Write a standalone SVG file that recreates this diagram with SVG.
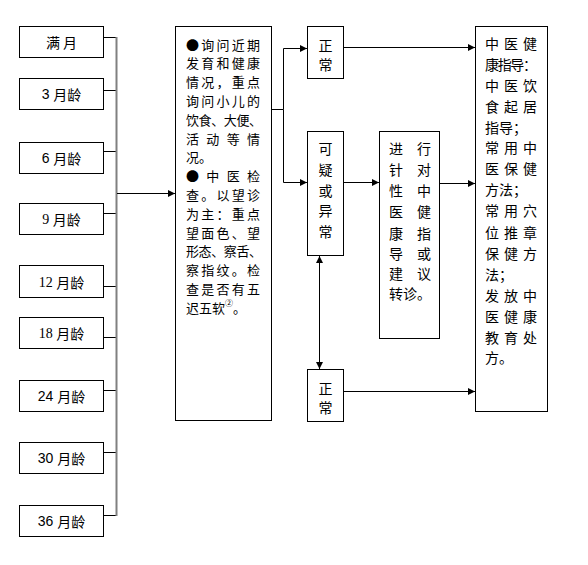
<svg xmlns="http://www.w3.org/2000/svg" width="588" height="565" viewBox="0 0 588 565">
<style>
.box{fill:#fff;stroke:#000;stroke-width:1}
.t{font-family:"Noto Sans CJK SC","Liberation Sans",sans-serif;font-size:14px;fill:#000;dominant-baseline:central}
.m{font-size:13px}
.s{font-family:"Liberation Sans","Noto Sans CJK SC",sans-serif}
.r{font-family:"Liberation Serif","Noto Sans CJK SC",serif}
.c{text-anchor:middle}
.ln{fill:none;stroke:#000;stroke-width:1}
</style>
<defs>
<marker id="a" viewBox="0 0 10 10" refX="10" refY="5" markerWidth="8" markerHeight="7" markerUnits="userSpaceOnUse" orient="auto-start-reverse">
<path d="M0,0 L10,5 L0,10 z" fill="#000"/>
</marker>
</defs>

<g id="n-m0"><rect class="box" x="19.5" y="26.5" width="84" height="31"/><text class="t c" x="61.5" y="42">满 月</text></g>
<g id="n-m3"><rect class="box" x="19.5" y="78.5" width="84" height="31"/><text class="t c" x="61.5" y="94"><tspan class="s">3 </tspan>月龄</text></g>
<g id="n-m6"><rect class="box" x="19.5" y="142.5" width="84" height="31"/><text class="t c" x="61.5" y="158"><tspan class="s">6 </tspan>月龄</text></g>
<g id="n-m9"><rect class="box" x="19.5" y="203.5" width="84" height="31"/><text class="t c" x="61.5" y="219"><tspan class="r">9 </tspan>月龄</text></g>
<g id="n-m12"><rect class="box" x="19.5" y="265.5" width="84" height="32"/><text class="t c" x="61.5" y="281.5"><tspan class="r">12 </tspan>月龄</text></g>
<g id="n-m18"><rect class="box" x="19.5" y="317.5" width="84" height="31"/><text class="t c" x="61.5" y="333"><tspan class="r">18 </tspan>月龄</text></g>
<g id="n-m24"><rect class="box" x="19.5" y="380.5" width="84" height="31"/><text class="t c" x="61.5" y="396"><tspan class="s">24 </tspan>月龄</text></g>
<g id="n-m30"><rect class="box" x="19.5" y="442.5" width="84" height="31"/><text class="t c" x="61.5" y="458"><tspan class="s">30 </tspan>月龄</text></g>
<g id="n-m36"><rect class="box" x="19.5" y="505.5" width="84" height="31"/><text class="t c" x="61.5" y="521"><tspan class="s">36 </tspan>月龄</text></g>

<g id="n-main">
<rect class="box" x="175.5" y="26.5" width="96" height="394"/>
<text class="t m" x="186" y="44" textLength="74" lengthAdjust="spacing">●询问近期</text>
<text class="t m" x="186" y="62.8" textLength="74" lengthAdjust="spacing">发育和健康</text>
<text class="t m" x="186" y="81.6" textLength="74" lengthAdjust="spacing">情况，重点</text>
<text class="t m" x="186" y="100.4" textLength="74" lengthAdjust="spacing">询问小儿的</text>
<text class="t m" x="186" y="119.2" textLength="76" lengthAdjust="spacing">饮食、大便、</text>
<text class="t m" x="186" y="138" textLength="74" lengthAdjust="spacing">活动等情</text>
<text class="t m" x="186" y="156.8">况。</text>
<text class="t m" x="186" y="175.6" textLength="74" lengthAdjust="spacing">●中医检</text>
<text class="t m" x="186" y="194.4" textLength="74" lengthAdjust="spacing">查。以望诊</text>
<text class="t m" x="186" y="213.2" textLength="74" lengthAdjust="spacing">为主：重点</text>
<text class="t m" x="186" y="232" textLength="74" lengthAdjust="spacing">望面色、望</text>
<text class="t m" x="186" y="250.8" textLength="76" lengthAdjust="spacing">形态、察舌、</text>
<text class="t m" x="186" y="269.6" textLength="74" lengthAdjust="spacing">察指纹。检</text>
<text class="t m" x="186" y="288.4" textLength="74" lengthAdjust="spacing">查是否有五</text>
<text class="t m" x="186" y="307.2">迟五软<tspan font-size="8" dy="-5">②</tspan><tspan dy="5">。</tspan></text>
</g>

<g id="n-normal1"><rect class="box" x="307.5" y="26.5" width="36" height="52"/><text class="t c" x="325.5" y="45">正</text><text class="t c" x="325.5" y="64">常</text></g>
<g id="n-suspect"><rect class="box" x="307.5" y="131.5" width="36" height="124"/>
<text class="t c" x="325.5" y="148">可</text><text class="t c" x="325.5" y="169">疑</text><text class="t c" x="325.5" y="190">或</text><text class="t c" x="325.5" y="210">异</text><text class="t c" x="325.5" y="231">常</text></g>
<g id="n-normal2"><rect class="box" x="307.5" y="369.5" width="36" height="52"/><text class="t c" x="325.5" y="388">正</text><text class="t c" x="325.5" y="407">常</text></g>

<g id="n-guide"><rect class="box" x="379.5" y="131.5" width="60" height="207"/>
<text class="t" x="389" y="148" textLength="42" lengthAdjust="spacing">进行</text>
<text class="t" x="389" y="169" textLength="42" lengthAdjust="spacing">针对</text>
<text class="t" x="389" y="190" textLength="42" lengthAdjust="spacing">性中</text>
<text class="t" x="389" y="211" textLength="42" lengthAdjust="spacing">医健</text>
<text class="t" x="389" y="233" textLength="42" lengthAdjust="spacing">康指</text>
<text class="t" x="389" y="253" textLength="42" lengthAdjust="spacing">导或</text>
<text class="t" x="389" y="273" textLength="42" lengthAdjust="spacing">建议</text>
<text class="t" x="389" y="293">转诊。</text>
</g>

<g id="n-tcm"><rect class="box" x="475.5" y="26.5" width="72" height="385"/>
<text class="t" x="485" y="43" textLength="52" lengthAdjust="spacing">中医健</text>
<text class="t" x="485" y="64" textLength="52" lengthAdjust="spacing">康指导：</text>
<text class="t" x="485" y="85" textLength="52" lengthAdjust="spacing">中医饮</text>
<text class="t" x="485" y="106" textLength="52" lengthAdjust="spacing">食起居</text>
<text class="t" x="485" y="127">指导；</text>
<text class="t" x="485" y="147" textLength="52" lengthAdjust="spacing">常用中</text>
<text class="t" x="485" y="168" textLength="52" lengthAdjust="spacing">医保健</text>
<text class="t" x="485" y="189">方法；</text>
<text class="t" x="485" y="210" textLength="52" lengthAdjust="spacing">常用穴</text>
<text class="t" x="485" y="232" textLength="52" lengthAdjust="spacing">位推章</text>
<text class="t" x="485" y="253" textLength="52" lengthAdjust="spacing">保健方</text>
<text class="t" x="485" y="274">法；</text>
<text class="t" x="485" y="295" textLength="52" lengthAdjust="spacing">发放中</text>
<text class="t" x="485" y="316" textLength="52" lengthAdjust="spacing">医健康</text>
<text class="t" x="485" y="337" textLength="52" lengthAdjust="spacing">教育处</text>
<text class="t" x="485" y="357">方。</text>
</g>

<g id="connectors">
<path class="ln" d="M103.5,37.5H116M103.5,90.5H116M103.5,151.5H116M103.5,213.5H116M103.5,286.5H116M103.5,337.5H116M103.5,390.5H116M103.5,452.5H116M103.5,515.5H116"/>
<path d="M116.5,37V516" fill="none" stroke="#808080" stroke-width="2"/>
<path class="ln" d="M117,193.5H175" marker-end="url(#a)"/>
<path class="ln" d="M271.5,109.5H283.5V48.5H307" marker-end="url(#a)"/>
<path class="ln" d="M283.5,109.5V182.5H307" marker-end="url(#a)"/>
<path class="ln" d="M343.5,47.5H475" marker-end="url(#a)"/>
<path class="ln" d="M343.5,182.5H379" marker-end="url(#a)"/>
<path class="ln" d="M439.5,183.5H475" marker-end="url(#a)"/>
<path class="ln" d="M319.5,256V369" marker-start="url(#a)" marker-end="url(#a)"/>
<path class="ln" d="M343.5,391.5H475" marker-end="url(#a)"/>
</g>
</svg>
